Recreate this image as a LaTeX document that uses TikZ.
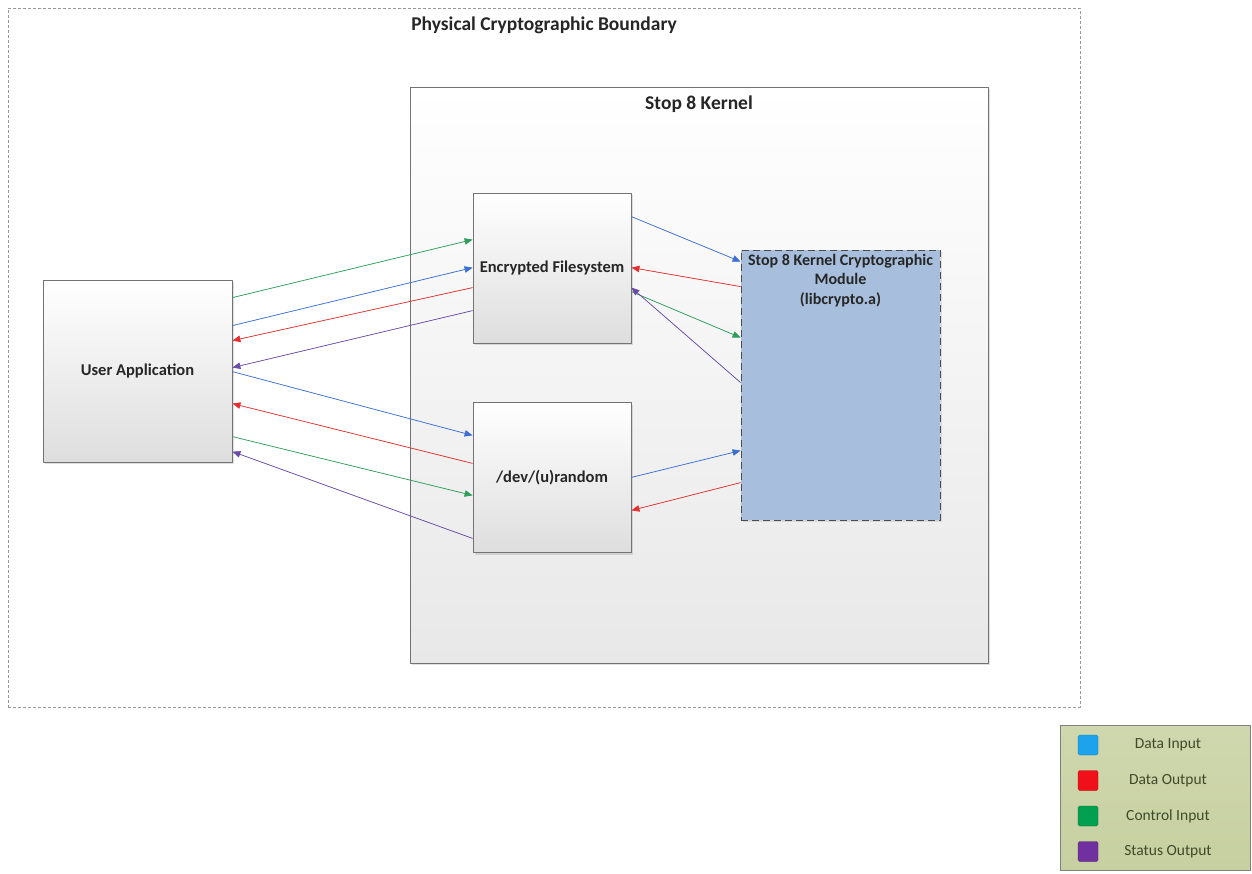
\documentclass[tikz,border=0pt]{standalone}
\usepackage{fontspec}
\setmainfont{Carlito}
\usetikzlibrary{arrows.meta,positioning,shadows}

\definecolor{dinblue}{HTML}{3B6FD6}
\definecolor{doutred}{HTML}{E5302F}
\definecolor{cingreen}{HTML}{2E9E5B}
\definecolor{soutpurple}{HTML}{6A4BA8}
\definecolor{modfill}{HTML}{A7BFDD}
\definecolor{legfill}{HTML}{C7D0A0}
\definecolor{legtext}{HTML}{3F4A2A}
\definecolor{keyblue}{HTML}{1CA3EC}
\definecolor{keyred}{HTML}{F0101A}
\definecolor{keygreen}{HTML}{00A050}
\definecolor{keypurple}{HTML}{7030A0}

\begin{document}
\begin{tikzpicture}[
    x=1pt, y=-1pt,
    >={Triangle[length=8pt,width=6.5pt]},
    line join=round,
    boundary/.style={
        draw=black!40,
        densely dashed,
        line width=0.6pt,
        rectangle,
        minimum width=1072pt,
        minimum height=699pt
    },
    kernel/.style={
        draw=black!55,
        line width=0.8pt,
        rectangle,
        top color=white,
        bottom color=black!9,
        drop shadow={opacity=0.25, shadow xshift=2pt, shadow yshift=-2pt},
        minimum width=578pt,
        minimum height=576pt
    },
    block/.style={
        draw=black!55,
        line width=0.8pt,
        rectangle,
        top color=white,
        bottom color=black!13,
        drop shadow={opacity=0.25, shadow xshift=2pt, shadow yshift=-2pt},
        font=\fontsize{16.5}{19}\selectfont\bfseries,
        text=black!85,
        align=center
    },
    module/.style={
        draw=black!70,
        dash pattern=on 7pt off 4pt,
        line width=0.8pt,
        rectangle,
        fill=modfill,
        drop shadow={opacity=0.2, shadow xshift=2pt, shadow yshift=-2pt},
        minimum width=199pt,
        minimum height=270pt
    },
    title/.style={font=\fontsize{19.5}{22}\selectfont\bfseries, text=black!85},
    din/.style={->, draw=dinblue, fill=dinblue, line width=0.7pt},
    dout/.style={->, draw=doutred, fill=doutred, line width=0.7pt},
    cin/.style={->, draw=cingreen, fill=cingreen, line width=0.7pt},
    sout/.style={->, draw=soutpurple, fill=soutpurple, line width=0.7pt}
]
\useasboundingbox (0,0) rectangle (1252,873);

% =========================
% Boundaries
% =========================
\node[boundary, label={[title, anchor=north, yshift=-6pt]north:Physical Cryptographic Boundary}] (phys) at (544,357.5) {};

\node[kernel, label={[title, anchor=north, yshift=-6pt]north:Stop 8 Kernel}] (kern) at (699,375) {};

% =========================
% Nodes
% =========================
\node[block, minimum width=189pt, minimum height=182pt] (app) at (137.5,371) {User Application};

\node[block, minimum width=158pt, minimum height=150pt] (efs) at (552,268) {Encrypted Filesystem};

\node[block, minimum width=158pt, minimum height=150pt, below=59pt of efs] (rnd) {/dev/(u)random};

\node[module, label={[anchor=north, yshift=-1pt, align=center, font=\fontsize{16}{19.5}\selectfont\bfseries, text=black!85]north:Stop 8 Kernel Cryptographic\\Module\\(libcrypto.a)}] (kcm) at (840.5,385) {};

% =========================
% User application <-> filesystem
% =========================
\draw[cin] ([yshift=-18pt]app.north east) -- ([yshift=-47pt]efs.north west);
\draw[din] ([yshift=-46pt]app.north east) -- ([yshift=-75pt]efs.north west);
\draw[dout] ([yshift=-95pt]efs.north west) -- ([yshift=-61pt]app.north east);
\draw[sout] ([yshift=-118pt]efs.north west) -- ([yshift=-88pt]app.north east);

% =========================
% User application <-> random
% =========================
\draw[din] ([yshift=-92pt]app.north east) -- ([yshift=-33pt]rnd.north west);
\draw[dout] ([yshift=-61pt]rnd.north west) -- ([yshift=-124pt]app.north east);
\draw[cin] ([yshift=-157pt]app.north east) -- ([yshift=-93pt]rnd.north west);
\draw[sout] ([yshift=-136pt]rnd.north west) -- ([yshift=-172pt]app.north east);

% =========================
% Services <-> module
% =========================
\draw[din] ([yshift=-24pt]efs.north east) -- ([yshift=-12pt]kcm.north west);
\draw[dout] ([yshift=-37pt]kcm.north west) -- ([yshift=-75pt]efs.north east);
\draw[cin] ([yshift=-99pt]efs.north east) -- ([yshift=-88pt]kcm.north west);
\draw[sout] ([yshift=-133pt]kcm.north west) -- ([yshift=-95pt]efs.north east);

\draw[din] ([yshift=-75pt]rnd.north east) -- ([yshift=-201pt]kcm.north west);
\draw[dout] ([yshift=-233pt]kcm.north west) -- ([yshift=-108pt]rnd.north east);

% =========================
% Legend
% =========================
\node[draw=black!50, line width=0.8pt, top color=legfill!85!white, bottom color=legfill,
      minimum width=190pt, minimum height=145pt] (legend) at (1155,797.5) {};

\foreach \col/\txt [count=\i] in {keyblue/Data Input, keyred/Data Output,
                                  keygreen/Control Input, keypurple/Status Output} {
    \node[fill=\col, draw=\col!70!black, line width=0.3pt, rounded corners=1.5pt,
          minimum size=20pt, inner sep=0pt] (key\i) at (1088,{745+(\i-1)*35.5}) {};
    \node[font=\fontsize{15.5}{18}\selectfont, text=legtext] (keytxt\i) at (1168,{745+(\i-1)*35.5}) {\txt};
}

\end{tikzpicture}
\end{document}
